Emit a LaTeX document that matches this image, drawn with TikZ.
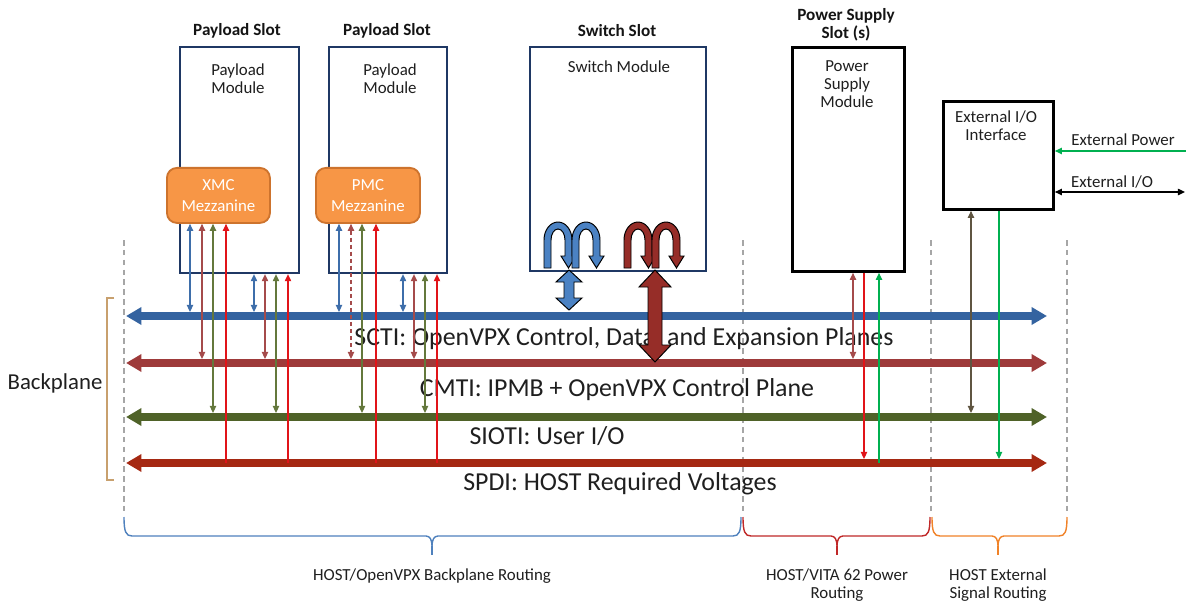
\documentclass[tikz,border=0pt]{standalone}
\usepackage{fontspec}
\setmainfont{Carlito}
\usetikzlibrary{arrows.meta}

\definecolor{slotblue}{RGB}{31,56,100}
\definecolor{sctiC}{RGB}{52,99,160}
\definecolor{cmtiC}{RGB}{158,58,58}
\definecolor{siotiC}{RGB}{79,98,40}
\definecolor{spdiC}{RGB}{165,40,18}
\definecolor{lblue}{RGB}{62,110,170}
\definecolor{lsalmon}{RGB}{165,75,75}
\definecolor{lolive}{RGB}{100,120,60}
\definecolor{lred}{RGB}{225,20,25}
\definecolor{lgreen}{RGB}{0,176,80}
\definecolor{brownish}{RGB}{95,85,65}
\definecolor{mezzfill}{RGB}{247,150,70}
\definecolor{mezzdraw}{RGB}{205,115,45}
\definecolor{bracketTan}{RGB}{200,160,110}
\definecolor{braceblue}{RGB}{79,129,189}
\definecolor{bracered}{RGB}{192,40,40}
\definecolor{braceorange}{RGB}{240,130,40}
\definecolor{swblue}{RGB}{75,130,195}
\definecolor{swred}{RGB}{150,45,40}

% one arched arrow of the switch fabric, centred at x = #1
\newcommand{\coilloop}[2]{%
  \filldraw[fill=#2, draw=black, line width=0.7pt]
    ({#1-14},268) -- ({#1-14},240)
    arc[start angle=180, end angle=360, x radius=14, y radius=18]
    -- ({#1+14},256) -- ({#1+18},256) -- ({#1+10.5},268) -- ({#1+3},256)
    -- ({#1+7},256) -- ({#1+7},240)
    arc[start angle=360, end angle=180, x radius=7, y radius=11]
    -- ({#1-7},268) -- cycle;}

% routing brace under the backplane: from #1 to #2, tip at #3
\newcommand{\routebrace}[4]{%
  \draw[#4, line width=1pt]
    (#1,517) .. controls (#1,532) and ({#1+2},536) .. ({#1+8},536)
    -- ({#3-6},536) .. controls ({#3-2},536) and (#3,540) .. (#3,546)
    .. controls (#3,540) and ({#3+2},536) .. ({#3+6},536)
    -- ({#2-8},536) .. controls ({#2-2},536) and (#2,532) .. (#2,517);
  \draw[#4, line width=1pt] (#3,546) -- (#3,555);}

\begin{document}
\begin{tikzpicture}[x=0.025cm, y=-0.025cm,
  txt/.style={text=black!88, inner sep=0pt, align=center, font=\fontsize{12}{13}\selectfont},
  slottitle/.style={text=black!92, inner sep=0pt, align=center, font=\fontsize{12.2}{12.4}\selectfont\bfseries},
  buslabel/.style={text=black!88, inner sep=0pt, font=\fontsize{18.4}{21}\selectfont},
  bottomlabel/.style={text=black!88, inner sep=0pt, align=center, font=\fontsize{12}{12.8}\selectfont},
  slotbox/.style={draw=slotblue, line width=1.5pt, fill=white, anchor=north west, inner sep=0pt},
  blkbox/.style={draw=black, line width=2pt, fill=white, anchor=north west, inner sep=0pt},
  mezz/.style={draw=mezzdraw, line width=1.3pt, fill=mezzfill, rounded corners=2.5mm,
    anchor=north west, inner sep=0pt, text=white, align=center, font=\fontsize{12}{15}\selectfont},
  bus/.style={line width=5.5pt, {Triangle[width=12pt,length=11pt]}-{Triangle[width=12pt,length=11pt]}},
  dbl/.style={line width=0.8pt, {Triangle[width=4.5pt,length=5pt]}-{Triangle[width=4.5pt,length=5pt]}},
  one/.style={line width=0.8pt, -{Triangle[width=4.5pt,length=5pt]}},
  sep/.style={draw=black!35, line width=0.8pt, dash pattern=on 4pt off 3pt},
  fat/.style={draw=black, line width=0.7pt},
]
\useasboundingbox (0,0) rectangle (1186,604);
\fill[white] (0,0) rectangle (1186,604);

% ---- slot separators
\draw[sep] (124,240) -- (124,513);
\draw[sep] (743,240) -- (743,513);
\draw[sep] (931,240) -- (931,513);
\draw[sep] (1067,240) -- (1067,513);

% ---- modules
\node[slotbox, minimum width=29.75mm, minimum height=56.5mm] (pay1) at (179,46) {};
\node[slotbox, minimum width=29.5mm, minimum height=56.5mm] (pay2) at (328,46) {};
\node[slotbox, minimum width=44mm, minimum height=56mm] (sw) at (529,46) {};
\node[blkbox, minimum width=28mm, minimum height=56mm] (psu) at (791,46) {};
\node[blkbox, minimum width=27.5mm, minimum height=27mm] (ext) at (942,100) {};

\node[slottitle] (pay1t) at (237,31) {Payload Slot};
\node[slottitle] (pay2t) at (387,31) {Payload Slot};
\node[slottitle] (swt) at (617,31) {Switch Slot};
\node[slottitle] (psut) at (846,25) {Power Supply\\Slot (s)};

\node[txt] (pay1l) at (238,79) {Payload\\Module};
\node[txt] (pay2l) at (390,79) {Payload\\Module};
\node[txt] (swl) at (619,67) {Switch Module};
\node[txt] (psul) at (847,84) {Power\\Supply\\Module};
\node[txt] (extl) at (996,126) {External I/O\\Interface};

\node[mezz, minimum width=25.75mm, minimum height=13.75mm] (xmc) at (166,167) {XMC\\Mezzanine};
\node[mezz, minimum width=26mm, minimum height=13.75mm] (pmc) at (315,167) {PMC\\Mezzanine};

% ---- backplane buses
\coordinate (sctiL) at (126,316);  \coordinate (sctiR) at (1047,316);
\coordinate (cmtiL) at (126,363);  \coordinate (cmtiR) at (1047,363);
\coordinate (siotiL) at (126,417); \coordinate (siotiR) at (1047,417);
\coordinate (spdiL) at (126,463);  \coordinate (spdiR) at (1047,463);
\coordinate (sctiT) at (0,312);
\coordinate (cmtiT) at (0,359);
\coordinate (siotiT) at (0,413);
\coordinate (spdiT) at (0,459);
\coordinate (spdiM) at (0,463);

\draw[bus, sctiC] (sctiL) -- (sctiR);
\draw[bus, cmtiC] (cmtiL) -- (cmtiR);
\draw[bus, siotiC] (siotiL) -- (siotiR);
\draw[bus, spdiC] (spdiL) -- (spdiR);

\node[buslabel] (sctil) at (624,339) {SCTI: OpenVPX Control, Data, and Expansion Planes};
\node[buslabel] (cmtil) at (617,390) {CMTI: IPMB + OpenVPX Control Plane};
\node[buslabel] (siotil) at (547,436) {SIOTI: User I/O};
\node[buslabel] (spdil) at (620,484) {SPDI: HOST Required Voltages};

% ---- backplane bracket
\draw[bracketTan, line width=1.5pt] (114,298) -- (107,298) -- (107,480) -- (114,480);
\node[text=black!88, inner sep=0pt, font=\fontsize{16.2}{18}\selectfont] (bpl) at (55,383) {Backplane};

% ---- payload slot 1
\draw[dbl, lblue]   (190,0 |- xmc.south) -- (190,0 |- sctiT);
\draw[dbl, lsalmon] (202,0 |- xmc.south) -- (202,0 |- cmtiT);
\draw[dbl, lolive]  (213,0 |- xmc.south) -- (213,0 |- siotiT);
\draw[one, lred]    (226,0 |- spdiM) -- (226,0 |- xmc.south);
\draw[dbl, lblue]   (254,0 |- pay1.south) -- (254,0 |- sctiT);
\draw[dbl, lsalmon] (265,0 |- pay1.south) -- (265,0 |- cmtiT);
\draw[dbl, lolive]  (276,0 |- pay1.south) -- (276,0 |- siotiT);
\draw[one, lred]    (288,0 |- spdiM) -- (288,0 |- pay1.south);

% ---- payload slot 2
\draw[dbl, lblue]   (339,0 |- pmc.south) -- (339,0 |- sctiT);
\draw[dbl, lsalmon, dash pattern=on 3pt off 2pt] (351,0 |- pmc.south) -- (351,0 |- cmtiT);
\draw[dbl, lolive]  (362,0 |- pmc.south) -- (362,0 |- siotiT);
\draw[one, lred]    (376,0 |- spdiM) -- (376,0 |- pmc.south);
\draw[dbl, lblue]   (403,0 |- pay2.south) -- (403,0 |- sctiT);
\draw[dbl, lsalmon] (414,0 |- pay2.south) -- (414,0 |- cmtiT);
\draw[dbl, lolive]  (425,0 |- pay2.south) -- (425,0 |- siotiT);
\draw[one, lred]    (437,0 |- spdiM) -- (437,0 |- pay2.south);

% ---- switch fabric
\coilloop{558}{swblue}
\coilloop{586}{swblue}
\coilloop{638}{swred}
\coilloop{666}{swred}
\filldraw[fat, fill=swblue]
  (569,270) -- (582,282) -- (574,282) -- (574,298) -- (582,298) -- (569,310)
  -- (556,298) -- (564,298) -- (564,282) -- (556,282) -- cycle;
\filldraw[fat, fill=swred]
  (655,270) -- (671,287) -- (662,287) -- (662,345) -- (671,345) -- (655,362)
  -- (639,345) -- (648,345) -- (648,287) -- (639,287) -- cycle;

% ---- power supply slot
\draw[dbl, lsalmon] (853,0 |- psu.south) -- (853,0 |- cmtiT);
\draw[one, lred]    (864,0 |- psu.south) -- (864,0 |- spdiT);
\draw[one, lgreen]  (879,0 |- spdiM) -- (879,0 |- psu.south);

% ---- external I/O
\draw[dbl, brownish] (971,0 |- ext.south) -- (971,0 |- siotiT);
\draw[one, lgreen]   (999,0 |- ext.south) -- (999,0 |- spdiT);
\coordinate (pwrIn) at (1186,151);
\coordinate (ioOut) at (1185,192);
\draw[one, lgreen, line width=1pt] (pwrIn) -- (ext.east |- pwrIn);
\draw[dbl, black, line width=1pt] (ext.east |- ioOut) -- (ioOut);
\node[txt] (pwrl) at (1123,140) {External Power};
\node[txt] (iol) at (1112,182) {External I/O};

% ---- routing braces
\routebrace{124}{741}{432}{braceblue}
\routebrace{743}{930}{837}{bracered}
\routebrace{932}{1067}{998}{braceorange}
\node[bottomlabel] (r1) at (432,576) {HOST/OpenVPX Backplane Routing};
\node[bottomlabel] (r2) at (837,585) {HOST/VITA 62 Power\\Routing};
\node[bottomlabel] (r3) at (998,585) {HOST External\\Signal Routing};
\end{tikzpicture}
\end{document}
